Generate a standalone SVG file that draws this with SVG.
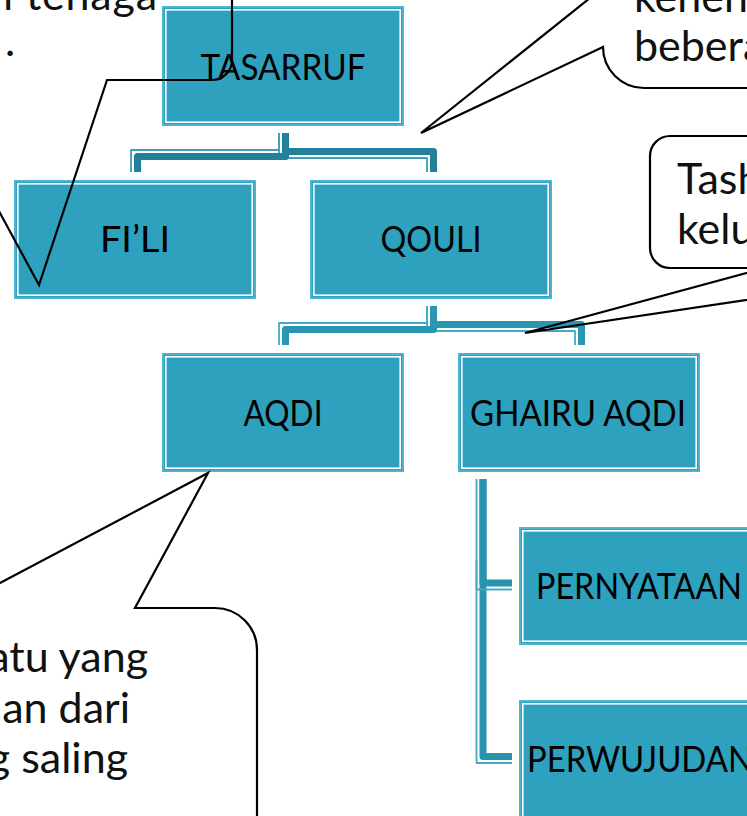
<svg xmlns="http://www.w3.org/2000/svg" width="747" height="816" viewBox="0 0 747 816">
<style>
.box{fill:#2da1be;stroke:#4cb4ce;stroke-width:2}
.inner{fill:none;stroke:#ffffff;stroke-width:1.6}
.lbl{font-family:Lato,"Liberation Sans",sans-serif;font-size:37px;fill:#000;text-anchor:middle}
.ctx{font-family:Lato,"Liberation Sans",sans-serif;font-size:43px;fill:#111}
.thin1{fill:none;stroke:#3e9fb9;stroke-width:1.8;stroke-linejoin:round}
.thick1{fill:none;stroke:#23809a;stroke-width:7;stroke-linejoin:round}
.thin2{fill:none;stroke:#45aac4;stroke-width:1.8;stroke-linejoin:round}
.thick2{fill:none;stroke:#2996b2;stroke-width:7;stroke-linejoin:round}
.thin3{fill:none;stroke:#45a8c2;stroke-width:1.8;stroke-linejoin:round}
.thick3{fill:none;stroke:#2992ad;stroke-width:7;stroke-linejoin:round}
.call{fill:none;stroke:#000;stroke-width:2.2;stroke-linejoin:miter}
</style>
<rect width="747" height="816" fill="#ffffff"/>

<g id="connectors">
  <path class="thick1" d="M285.5,133 V151.5 H433.5 V172"/>
  <path class="thin1" d="M279,133 V158 H427 V172"/>
  <path class="thick1" d="M285.5,133 V156.5 H137.5 V172"/>
  <path class="thin1" d="M279,133 V150 H131 V172"/>

  <path class="thick2" d="M433.5,306 V324.5 H581.5 V345"/>
  <path class="thin2" d="M427,306 V331 H575 V345"/>
  <path class="thick2" d="M433.5,306 V329.5 H285.5 V345"/>
  <path class="thin2" d="M427,306 V323 H279 V345"/>

  <path class="thick3" d="M483,479 V756.5 H512"/>
  <path class="thin3" d="M476.5,479 V763 H512"/>
  <path class="thick3" d="M483,479 V583 H512"/>
  <path class="thin3" d="M476.5,560 V589.5 H512"/>
</g>

<g id="n-tasarruf">
  <rect class="box" x="163" y="7" width="240" height="118"/>
  <rect class="inner" x="165.8" y="9.8" width="234.4" height="112.4"/>
  <text class="lbl" x="283" y="80" textLength="165" lengthAdjust="spacingAndGlyphs">TASARRUF</text>
</g>
<g id="n-fili">
  <rect class="box" x="15" y="181" width="240" height="117"/>
  <rect class="inner" x="17.8" y="183.8" width="234.4" height="111.4"/>
  <text class="lbl" x="135" y="252" textLength="70" lengthAdjust="spacingAndGlyphs">FI’LI</text>
</g>
<g id="n-qouli">
  <rect class="box" x="311" y="181" width="240" height="117"/>
  <rect class="inner" x="313.8" y="183.8" width="234.4" height="111.4"/>
  <text class="lbl" x="431" y="252" textLength="101" lengthAdjust="spacingAndGlyphs">QOULI</text>
</g>
<g id="n-aqdi">
  <rect class="box" x="163" y="354" width="240" height="117"/>
  <rect class="inner" x="165.8" y="356.8" width="234.4" height="111.4"/>
  <text class="lbl" x="283" y="426" textLength="79" lengthAdjust="spacingAndGlyphs">AQDI</text>
</g>
<g id="n-ghairu">
  <rect class="box" x="459" y="354" width="240" height="117"/>
  <rect class="inner" x="461.8" y="356.8" width="234.4" height="111.4"/>
  <text class="lbl" x="578" y="426" textLength="216" lengthAdjust="spacingAndGlyphs">GHAIRU AQDI</text>
</g>
<g id="n-pernyataan">
  <rect class="box" x="520" y="528" width="240" height="116"/>
  <rect class="inner" x="522.8" y="530.8" width="234.4" height="110.4"/>
  <text class="lbl" x="639" y="599" textLength="206" lengthAdjust="spacingAndGlyphs">PERNYATAAN</text>
</g>
<g id="n-perwujudan">
  <rect class="box" x="520" y="701" width="240" height="120"/>
  <rect class="inner" x="522.8" y="703.8" width="234.4" height="114.4"/>
  <text class="lbl" x="640" y="772" textLength="226" lengthAdjust="spacingAndGlyphs">PERWUJUDAN</text>
</g>

<g id="callout-topleft">
  <path class="call" d="M232,-10 V60 A20,20 0 0 1 212,80 H107 L39,285 L-72,80"/>
  <text class="ctx" x="3" y="10" textLength="154" lengthAdjust="spacing">i tenaga</text>
  <text class="ctx" x="5" y="56">.</text>
</g>
<g id="callout-topright">
  <path class="call" d="M600,-10 L421,133 L603,47 A41,41 0 0 0 644,88 H800"/>
  <text class="ctx" x="634" y="12">kehen</text>
  <text class="ctx" x="634" y="61">bebera</text>
</g>
<g id="callout-right">
  <path class="call" d="M800,136 H670 A20,20 0 0 0 650,156 V248 A20,20 0 0 0 670,268 H765 L525,333 L900,277"/>
  <text class="ctx" x="677" y="194">Tash</text>
  <text class="ctx" x="677" y="244">kelu</text>
</g>
<g id="callout-bottomleft">
  <path class="call" d="M-47,608 L208,473 L135,608 H215 A42,42 0 0 1 257,650 V830"/>
  <text class="ctx" x="148" y="672" text-anchor="end">atu yang</text>
  <text class="ctx" x="130" y="723" text-anchor="end">an dari</text>
  <text class="ctx" x="128" y="773" text-anchor="end">g saling</text>
</g>
</svg>
